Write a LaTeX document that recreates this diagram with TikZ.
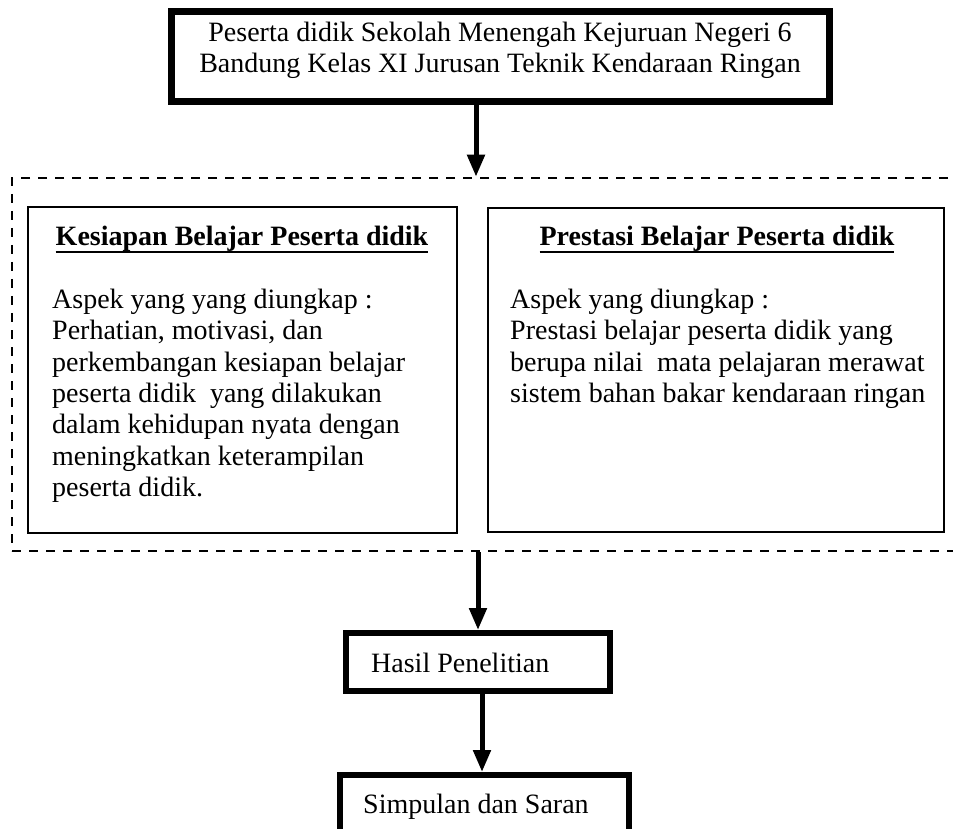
\documentclass[tikz,border=0pt]{standalone}
\usepackage{fontspec}
\setmainfont{Liberation Serif}
\usetikzlibrary{positioning, arrows.meta}
\tikzstyle{heavybox} = [rectangle, draw=black, line width=7pt, inner sep=0pt]
\tikzstyle{midbox} = [rectangle, draw=black, line width=6pt, inner sep=0pt]
\tikzstyle{thinbox} = [rectangle, draw=black, line width=2pt, inner sep=0pt]
\tikzstyle{dashframe} = [rectangle, draw=black, line width=2.6pt, dash pattern=on 9pt off 8pt, inner sep=0pt]
\tikzstyle{txt} = [inner sep=0pt, align=left, font=\fontsize{28}{31.3}\selectfont]
\tikzstyle{arrow} = [line width=5pt, -{Triangle[width=17pt, length=22pt]}]
\newcommand{\hdline}[1]{\setbox0\hbox{#1}\rlap{\rule[-7.5pt]{\wd0}{2.8pt}}\box0}

\begin{document}
\begin{tikzpicture}[x=1pt, y=-1pt]
	\useasboundingbox (0,0) rectangle (953,829);
	\clip (0,0) rectangle (953,829);
	% boxes
	\node (top) [heavybox, minimum width=658pt, minimum height=90pt] at (500,57) {};
	\node (frame) [dashframe, minimum width=953pt, minimum height=373pt] at (488.5,364.5) {};
	\node (kesiapan) [thinbox, minimum width=429pt, minimum height=326pt] at (242.5,370) {};
	\node (prestasi) [thinbox, minimum width=456pt, minimum height=324pt] at (716,370) {};
	\node (hasil) [midbox, minimum width=264pt, minimum height=58pt] at (478,662) {};
	\node (simpulan) [midbox, minimum width=289pt, minimum height=75pt] at (484.5,812.5) {};
	% texts
	\node (topText) [txt, align=center, anchor=north] at (500,22) {Peserta didik Sekolah Menengah Kejuruan Negeri 6\\
		Bandung Kelas XI Jurusan Teknik Kendaraan Ringan};
	\node (kesiapanHead) [txt, anchor=base] at (242,246) {\hdline{\textbf{Kesiapan Belajar Peserta didik}}};
	\node (kesiapanText) [txt, anchor=north west] at (52,289) {Aspek yang yang diungkap :\\
		Perhatian, motivasi, dan\\
		perkembangan kesiapan belajar\\
		peserta didik\ \ yang dilakukan\\
		dalam kehidupan nyata dengan\\
		meningkatkan keterampilan\\
		peserta didik.};
	\node (prestasiHead) [txt, anchor=base] at (717,246) {\hdline{\textbf{Prestasi Belajar Peserta didik}}};
	\node (prestasiText) [txt, anchor=north west] at (510,289) {Aspek yang diungkap :\\
		Prestasi belajar peserta didik yang\\
		berupa nilai\ \ mata pelajaran merawat\\
		sistem bahan bakar kendaraan ringan};
	\node (hasilText) [txt, anchor=base west] at (371,672) {Hasil Penelitian};
	\node (simpulanText) [txt, anchor=base west] at (363,813) {Simpulan dan Saran};
	% connectors
	\draw [arrow] ([xshift=-24pt]top.south) -- ([xshift=-24pt]top.south |- frame.north);
	\draw [arrow] (frame.south -| hasil.north) -- (hasil.north);
	\draw [arrow] ([xshift=4pt]hasil.south) -- ([xshift=4pt]hasil.south |- simpulan.north);
\end{tikzpicture}
\end{document}
